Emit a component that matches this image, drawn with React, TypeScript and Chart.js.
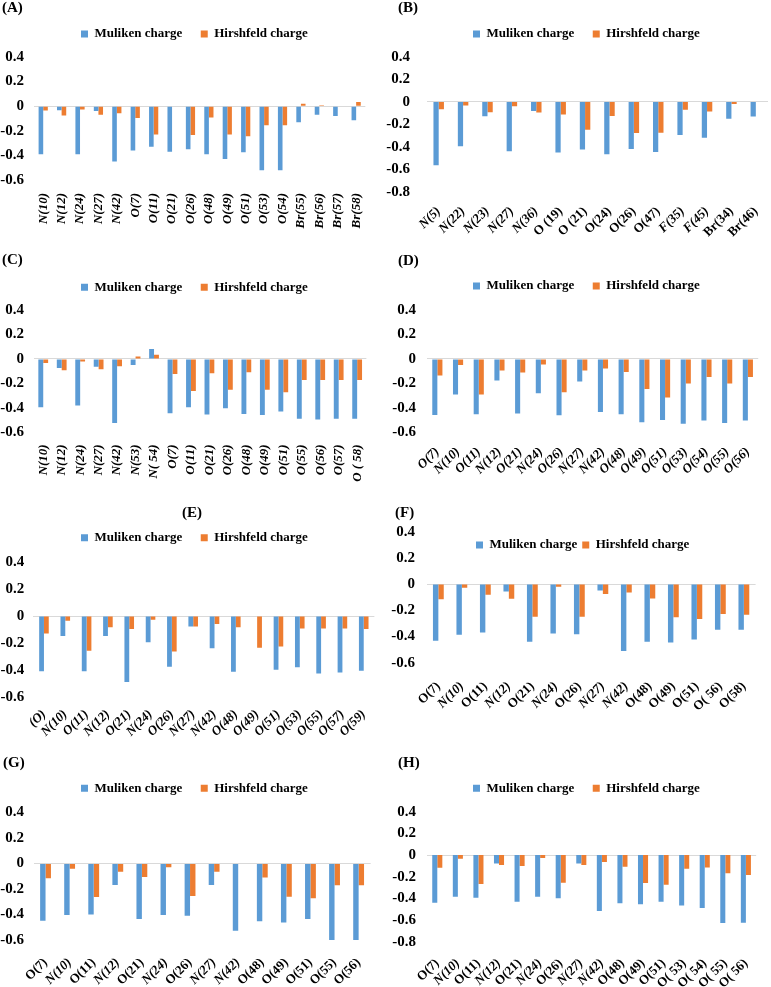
import React, { useEffect, useRef } from 'react';
import { Chart, registerables } from 'chart.js';

Chart.register(...registerables);

// ---------------- DATA ----------------
const seriesNames = ['Muliken charge', 'Hirshfeld charge'];

const labelsA = ['N(10)', 'N(12)', 'N(24)', 'N(27)', 'N(42)', 'O(7)', 'O(11)', 'O(21)', 'O(26)', 'O(48)', 'O(49)', 'O(51)', 'O(53)', 'O(54)', 'Br(55)', 'Br(56)', 'Br(57)', 'Br(58)'];
const mullikenA = [-0.39, -0.033, -0.39, -0.04, -0.45, -0.36, -0.33, -0.37, -0.35, -0.39, -0.43, -0.375, -0.52, -0.52, -0.13, -0.07, -0.08, -0.115];
const hirshfeldA = [-0.035, -0.076, -0.027, -0.07, -0.057, -0.095, -0.23, 0, -0.235, -0.092, -0.23, -0.245, -0.155, -0.155, 0.02, 0.008, 0, 0.035];

const labelsB = ['N(5)', 'N(22)', 'N(23)', 'N(27)', 'N(36)', 'O (19)', 'O (21)', 'O(24)', 'O(26)', 'O(47)', 'F(35)', 'F(45)', 'Br(34)', 'Br(46)'];
const mullikenB = [-0.565, -0.396, -0.128, -0.44, -0.08, -0.45, -0.425, -0.467, -0.42, -0.446, -0.295, -0.32, -0.149, -0.13];
const hirshfeldB = [-0.065, -0.033, -0.092, -0.039, -0.095, -0.113, -0.247, -0.125, -0.277, -0.274, -0.071, -0.086, -0.018, 0];

const labelsC = ['N(10)', 'N(12)', 'N(24)', 'N(27)', 'N(42)', 'N(53)', 'N( 54)', 'O(7)', 'O(11)', 'O(21)', 'O(26)', 'O(48)', 'O(49)', 'O(51)', 'O(55)', 'O(56)', 'O(57)', 'O ( 58)'];
const mullikenC = [-0.395, -0.074, -0.38, -0.065, -0.523, -0.049, 0.082, -0.444, -0.395, -0.455, -0.403, -0.45, -0.458, -0.43, -0.49, -0.496, -0.49, -0.49];
const hirshfeldC = [-0.033, -0.093, -0.022, -0.084, -0.06, 0.019, 0.035, -0.123, -0.262, -0.117, -0.253, -0.109, -0.253, -0.272, -0.172, -0.172, -0.172, -0.172];

const labelsD = ['O(7)', 'N(10)', 'O(11)', 'N(12)', 'O(21)', 'N(24)', 'O(26)', 'N(27)', 'N(42)', 'O(48)', 'O(49)', 'O(51)', 'O(53)', 'O(54)', 'O(55)', 'O(56)'];
const mullikenD = [-0.458, -0.29, -0.452, -0.177, -0.447, -0.28, -0.46, -0.185, -0.433, -0.452, -0.518, -0.5, -0.53, -0.504, -0.523, -0.504];
const hirshfeldD = [-0.136, -0.049, -0.29, -0.095, -0.112, -0.046, -0.272, -0.095, -0.079, -0.106, -0.245, -0.316, -0.2, -0.147, -0.2, -0.147];

const labelsE = ['(O)', 'N(10)', 'O(11)', 'N(12)', 'O(21)', 'N(24)', 'O(26)', 'N(27)', 'N(42)', 'O(48)', 'O(49)', 'O(51)', 'O(53)', 'O(55)', 'O(57)', 'O(59)'];
const mullikenE = [-0.41, -0.149, -0.41, -0.149, -0.49, -0.194, -0.377, -0.077, -0.24, -0.414, 0, -0.4, -0.38, -0.427, -0.42, -0.407];
const hirshfeldE = [-0.129, -0.035, -0.258, -0.084, -0.097, -0.027, -0.263, -0.077, -0.06, -0.084, -0.236, -0.226, -0.092, -0.092, -0.092, -0.097];

const labelsF = ['O(7)', 'N(10)', 'O(11)', 'N(12)', 'O(21)', 'N(24)', 'O(26)', 'N(27)', 'N(42)', 'O(48)', 'O(49)', 'O(51)', 'O( 56)', 'O(58)'];
const mullikenF = [-0.433, -0.387, -0.369, -0.056, -0.44, -0.377, -0.382, -0.048, -0.51, -0.44, -0.445, -0.422, -0.349, -0.349];
const hirshfeldF = [-0.115, -0.028, -0.081, -0.112, -0.25, -0.02, -0.25, -0.076, -0.064, -0.11, -0.254, -0.267, -0.229, -0.234];

const labelsG = ['O(7)', 'N(10)', 'O(11)', 'N(12)', 'O(21)', 'N(24)', 'O(26)', 'N(27)', 'N(42)', 'O(48)', 'O(49)', 'O(51)', 'O(55)', 'O(56)'];
const mullikenG = [-0.449, -0.405, -0.4, -0.17, -0.436, -0.405, -0.41, -0.17, -0.527, -0.454, -0.462, -0.436, -0.6, -0.6];
const hirshfeldG = [-0.117, -0.042, -0.264, -0.065, -0.107, -0.031, -0.256, -0.065, 0, -0.11, -0.261, -0.274, -0.172, -0.172];

const labelsH = ['O(7)', 'N(10)', 'O(11)', 'N(12)', 'O(21)', 'N(24)', 'O(26)', 'N(27)', 'N(42)', 'O(48)', 'O(49)', 'O(51)', 'O( 53)', 'O( 54)', 'O( 55)', 'O( 56)'];
const mullikenH = [-0.44, -0.385, -0.394, -0.077, -0.431, -0.385, -0.4, -0.077, -0.517, -0.446, -0.455, -0.431, -0.465, -0.489, -0.628, -0.625];
const hirshfeldH = [-0.117, -0.034, -0.268, -0.092, -0.102, -0.028, -0.255, -0.092, -0.065, -0.108, -0.258, -0.274, -0.126, -0.114, -0.169, -0.185];

// ---------------- STYLE / LAYOUT ----------------
const BLUE = '#5B9BD5';
const ORANGE = '#ED7D31';
const SERIF = '"Liberation Serif", "Times New Roman", serif';
const LEGEND_SIZE = 13;

type Panel = {
  title: string;
  labels: string[];
  m: number[];
  h: number[];
  x: number; y: number; w: number; ht: number;
  area: [number, number, number, number];
  min: number; max: number;
  rot: number; xpad: number; ypad: number; cp: number;
  titleX: number; titleY: number; titleAlign: 'start' | 'center';
  legendX: number; legendY: number; lp: number;
  italic: 'all' | 'N' | 'NF';
};

const panels: Panel[] = [
  { title: '(A)', labels: labelsA, m: mullikenA, h: hirshfeldA, x: 0, y: 0, w: 385, ht: 245, area: [34, 57, 376, 180], min: -0.6, max: 0.4, rot: 90, xpad: 13, ypad: 10, cp: 0.5, titleX: 2, titleY: 8, titleAlign: 'start', legendX: 81, legendY: 34, lp: 18.5, italic: 'all' },
  { title: '(B)', labels: labelsB, m: mullikenB, h: hirshfeldB, x: 385, y: 0, w: 394, ht: 245, area: [41.5, 57, 390, 191.7], min: -0.8, max: 0.4, rot: 45, xpad: 12, ypad: 16.5, cp: 0.43, titleX: 13, titleY: 8, titleAlign: 'start', legendX: 88, legendY: 34, lp: 18.5, italic: 'NF' },
  { title: '(C)', labels: labelsC, m: mullikenC, h: hirshfeldC, x: 0, y: 245, w: 385, ht: 245, area: [34, 65, 376, 187.3], min: -0.6, max: 0.4, rot: 90, xpad: 12, ypad: 10, cp: 0.53, titleX: 2, titleY: 15, titleAlign: 'start', legendX: 81, legendY: 42.3, lp: 18.5, italic: 'all' },
  { title: '(D)', labels: labelsD, m: mullikenD, h: hirshfeldD, x: 385, y: 245, w: 386, ht: 245, area: [42, 65, 383, 187.3], min: -0.6, max: 0.4, rot: 45, xpad: 12, ypad: 11, cp: 0.49, titleX: 13, titleY: 16, titleAlign: 'start', legendX: 88, legendY: 41, lp: 18.5, italic: 'all' },
  { title: '(E)', labels: labelsE, m: mullikenE, h: hirshfeldE, x: 0, y: 490, w: 385, ht: 250, area: [33.3, 72.3, 377.3, 206.7], min: -0.6, max: 0.4, rot: 45, xpad: 10, ypad: 9, cp: 0.45, titleX: 192, titleY: 22.7, titleAlign: 'center', legendX: 81, legendY: 47.7, lp: 18.5, italic: 'all' },
  { title: '(F)', labels: labelsF, m: mullikenF, h: hirshfeldF, x: 385, y: 490, w: 386, ht: 250, area: [41.6, 41.7, 383.2, 172.7], min: -0.6, max: 0.4, rot: 45, xpad: 16, ypad: 11.6, cp: 0.46, titleX: 10, titleY: 22.7, titleAlign: 'start', legendX: 91, legendY: 55, lp: 5, italic: 'N' },
  { title: '(G)', labels: labelsG, m: mullikenG, h: hirshfeldG, x: 0, y: 740, w: 385, ht: 247, area: [33.5, 72.3, 375.4, 200], min: -0.6, max: 0.4, rot: 45, xpad: 15, ypad: 9.5, cp: 0.45, titleX: 3, titleY: 23.3, titleAlign: 'start', legendX: 81, legendY: 48.3, lp: 18.5, italic: 'N' },
  { title: '(H)', labels: labelsH, m: mullikenH, h: hirshfeldH, x: 385, y: 740, w: 386, ht: 247, area: [42, 71.7, 383.5, 201.7], min: -0.8, max: 0.4, rot: 45, xpad: 14, ypad: 11, cp: 0.49, titleX: 13, titleY: 23.3, titleAlign: 'start', legendX: 88, legendY: 48.3, lp: 18.5, italic: 'N' },
];

// Places the title and legend blocks at fixed spots (they take no layout room).
const placePlugin = {
  id: 'place',
  afterLayout(chart: any, _args: any, opts: any) {
    const t = chart.titleBlock;
    if (t) {
      if (opts.titleAlign === 'center') {
        t.left = opts.titleX - 150; t.right = opts.titleX + 150;
      } else {
        t.left = opts.titleX; t.right = opts.titleX + 300;
      }
      t.top = opts.titleY; t.bottom = opts.titleY + 1;
      t.width = t.right - t.left; t.height = 1;
    }
    const lg = chart.legend;
    if (lg) {
      const p = lg.options.labels.padding;
      lg.left = opts.legendX - p;
      lg.right = chart.width;
      lg.top = opts.legendY - p - LEGEND_SIZE / 2;
      lg.bottom = lg.top + p + 40;
      lg.width = lg.right - lg.left;
      lg.height = lg.bottom - lg.top;
    }
  },
};

function isItalic(p: Panel, label: string) {
  if (p.italic === 'all') return true;
  if (p.italic === 'NF') return label.startsWith('N') || label.startsWith('F');
  return label.startsWith('N');
}

function PanelChart({ p }: { p: Panel }) {
  const ref = useRef<HTMLCanvasElement | null>(null);
  useEffect(() => {
    const [aLeft, aTop, aRight, aBottom] = p.area;
    const chart = new Chart(ref.current as HTMLCanvasElement, {
      type: 'bar',
      data: {
        labels: p.labels,
        datasets: [
          { label: seriesNames[0], data: p.m, backgroundColor: BLUE, borderWidth: 0, categoryPercentage: p.cp, barPercentage: 1 },
          { label: seriesNames[1], data: p.h, backgroundColor: ORANGE, borderWidth: 0, categoryPercentage: p.cp, barPercentage: 1 },
        ],
      },
      options: {
        responsive: false,
        animation: false,
        devicePixelRatio: 1,
        layout: { padding: { top: aTop - 1, right: p.w - aRight, bottom: 0, left: 0 } },
        plugins: {
          title: {
            display: true,
            text: p.title,
            align: p.titleAlign,
            color: '#000',
            padding: 0,
            weight: 3000,
            font: { family: SERIF, size: 15, weight: 'bold', lineHeight: '0px' },
          },
          legend: {
            display: true,
            position: 'top',
            align: 'start',
            maxHeight: 1,
            labels: {
              boxWidth: 7,
              boxHeight: 7,
              padding: p.lp,
              color: '#000',
              font: { family: SERIF, size: LEGEND_SIZE, weight: 'bold' },
            },
          },
          tooltip: { enabled: false },
          place: {
            titleX: p.titleX, titleY: p.titleY, titleAlign: p.titleAlign,
            legendX: p.legendX, legendY: p.legendY,
          },
        } as any,
        scales: {
          x: {
            grid: { display: false, drawTicks: false },
            border: { display: false },
            ticks: {
              autoSkip: false,
              minRotation: p.rot,
              maxRotation: p.rot,
              padding: p.xpad,
              color: '#000',
              font: (ctx: any) => ({
                family: SERIF,
                size: 13,
                weight: 'bold',
                style: isItalic(p, p.labels[ctx.index] || '') ? 'italic' : 'normal',
              }),
            },
            afterFit: (s: any) => { s.height = p.ht - aBottom; },
          },
          y: {
            min: p.min,
            max: p.max,
            grid: {
              drawTicks: false,
              lineWidth: 1,
              color: (ctx: any) => (ctx.tick && Math.abs(ctx.tick.value) < 1e-9 ? '#D9D9D9' : 'rgba(0,0,0,0)'),
            },
            border: { display: false },
            ticks: {
              stepSize: 0.2,
              padding: p.ypad,
              color: '#000',
              font: { family: SERIF, size: 15, weight: 'bold' },
              callback: (v: any) => String(Number(Number(v).toFixed(1))),
            },
            afterFit: (s: any) => { s.width = aLeft; },
          },
        },
      } as any,
      plugins: [placePlugin as any],
    });
    return () => chart.destroy();
  }, [p]);
  return (
    <canvas
      ref={ref}
      width={p.w}
      height={p.ht}
      style={{ position: 'absolute', left: p.x, top: p.y, width: p.w, height: p.ht }}
    />
  );
}

export default function App() {
  return (
    <div style={{ position: 'absolute', left: 0, top: 0, width: 771, height: 987, overflow: 'hidden', background: '#fff' }}>
      {panels.map((p) => (
        <PanelChart key={p.title} p={p} />
      ))}
    </div>
  );
}
